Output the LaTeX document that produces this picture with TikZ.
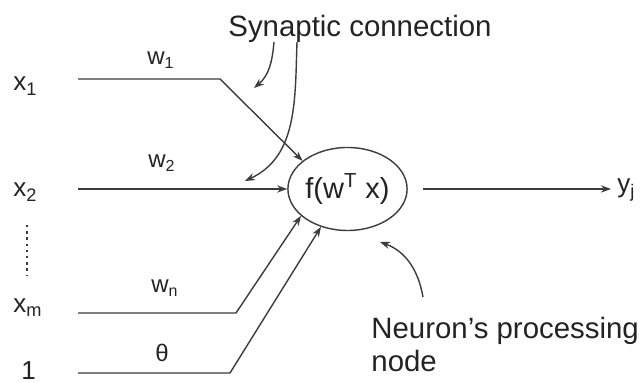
\documentclass[tikz,border=0pt]{standalone}
\usepackage{fontspec}
\setmainfont{Liberation Sans}
\usetikzlibrary{arrows.meta,shapes.geometric}

\definecolor{inkgray}{RGB}{35,35,35}
\definecolor{linegray}{RGB}{60,60,60}

\tikzset{
	wire/.style={draw=linegray, line width=0.7pt},
	conn/.style={wire, -{Stealth[length=5pt,width=3.6pt]}},
	inlabel/.style={text=inkgray, inner sep=0pt, font=\fontsize{13}{15}\selectfont},
	wlabel/.style={text=inkgray, inner sep=0pt, font=\fontsize{12}{14}\selectfont},
	note/.style={text=inkgray, inner sep=0pt, font=\fontsize{14.7}{16.5}\selectfont},
}

\begin{document}
\begin{tikzpicture}[x=0.5pt,y=0.5pt]
		
		\useasboundingbox (0,0) rectangle (643,383);
		
		\node[ellipse, draw=linegray, line width=0.7pt, minimum width=59.5pt, minimum height=41.5pt, inner sep=0pt, text=inkgray, font=\fontsize{14.5}{16}\selectfont] (neuron) at (347.5,194) {f(w\textsuperscript{T} x)};
		
		\node[inlabel, anchor=base west] (x1) at (13,292) {x\textsubscript{1}};
		\node[inlabel, anchor=base west] (x2) at (13,186) {x\textsubscript{2}};
		\node[inlabel, anchor=base west] (xm) at (13,70) {x\textsubscript{m}};
		\node[inlabel, anchor=base west] (one) at (21,3) {1};
		\node[inlabel, anchor=base west] (yj) at (617,190) {y\textsubscript{j}};
		
		\node[wlabel, anchor=base] (w1) at (161,318) {w\textsubscript{1}};
		\node[wlabel, anchor=base] (w2) at (162,215) {w\textsubscript{2}};
		\node[wlabel, anchor=base] (wn) at (165,90) {w\textsubscript{n}};
		\node[wlabel, anchor=base] (theta) at (162,21) {θ};
		
		\coordinate (x1s) at (78,304);
		\coordinate (x1b) at (220,304);
		\coordinate (x2s) at (78,194);
		\coordinate (xms) at (78,70);
		\coordinate (xmb) at (236,70);
		\coordinate (ones) at (78,10);
		\coordinate (oneb) at (230,10);
		\coordinate (outs) at (423,194);
		
		\draw[conn] (x1s) -- (x1b) -- (neuron.148);
		\draw[conn] (x2s) -- (neuron.west);
		\draw[conn] (xms) -- (xmb) -- (neuron.210);
		\draw[conn] (ones) -- (oneb) -- (neuron.235);
		\draw[conn, shorten >=3pt] (outs) -- (outs -| yj.west);
		
		\coordinate (dtop) at (27,158);
		\coordinate (dbot) at (27,108);
		\draw[wire, line width=1.2pt, dash pattern=on 1.2pt off 1.9pt] (dtop) -- (dbot);
		
		\node[note, anchor=north] (syn) at (360,368) {Synaptic connection};
		\coordinate (syna) at (274,341);
		\coordinate (synae) at (254,295);
		\coordinate (synb) at (297,341);
		\coordinate (synbe) at (245,202);
		\draw[conn] (syna) to[out=-95,in=40] (synae);
		\draw[conn] (synb) to[out=-92,in=25] (synbe);
		
		\node[note, anchor=north west, align=left] (proc) at (371,66) {Neuron’s processing\\node};
		\coordinate (proca) at (423,86);
		\coordinate (procae) at (380,141);
		\draw[conn] (proca) to[out=100,in=-20] (procae);
		
	\end{tikzpicture}
\end{document}
